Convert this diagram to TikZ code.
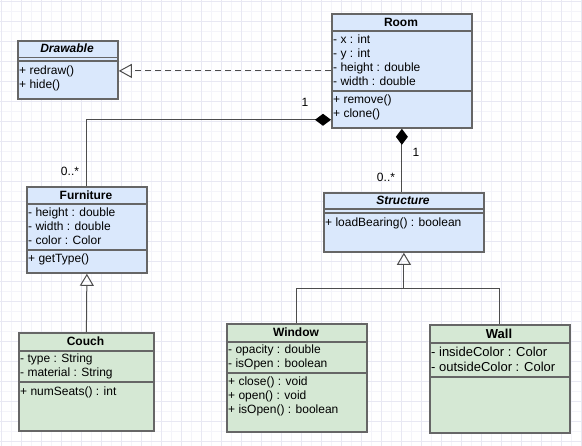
\documentclass[tikz,border=0pt]{standalone}
\usepackage{fontspec}
\setmainfont{Liberation Sans}
\usetikzlibrary{arrows.meta}
\definecolor{classblue}{HTML}{DAE8FC}
\definecolor{classgreen}{HTML}{D5E8D4}
\definecolor{classline}{HTML}{666666}
\definecolor{gridmajor}{HTML}{E8E8F3}
\definecolor{gridminor}{HTML}{F4F4FA}
\tikzset{
  classbox/.style={draw=classline, line width=1.8pt, anchor=north west, inner sep=0pt},
  bluebox/.style={classbox, fill=classblue},
  greenbox/.style={classbox, fill=classgreen},
  compart/.style={draw=classline, line width=1.8pt},
  classname/.style={font=\fontsize{12}{14}\selectfont\bfseries},
  abstractname/.style={font=\fontsize{12}{14}\selectfont\bfseries\itshape},
  member/.style={anchor=base west, inner sep=0pt, font=\fontsize{12}{14}\selectfont},
  mult/.style={font=\fontsize{12}{14}\selectfont, inner sep=0pt},
  assoc/.style={draw=black!70, line width=1pt},
  realizes/.style={assoc, dash pattern=on 6pt off 4pt, -{Triangle[open, length=13pt, width=14pt]}},
  inherits/.style={assoc, -{Triangle[open, length=12pt, width=14pt]}},
  composed/.style={assoc, -{Diamond[length=16pt, width=12pt, color=black]}},
}
\begin{document}
\begin{tikzpicture}[x=1pt, y=-1pt]
\useasboundingbox (0,0) rectangle (582,446);
% background grid
\begin{scope}[shift={(1,1)}]
\draw[gridminor, step=10pt] (-1,-1) grid (581,445);
\draw[gridmajor, step=20pt] (-1,-1) grid (581,445);
\end{scope}

% Drawable
\node[bluebox, minimum width=100pt, minimum height=58pt] (drawable) at (17,40) {};
\node[abstractname] (drawable-name) at (67,48.5) {Drawable};
\draw[compart] (drawable.west |- 0,57.5) -- (drawable.east |- 0,57.5);
\draw[compart] (drawable.west |- 0,61) -- (drawable.east |- 0,61);
\foreach \t [count=\i] in {+ redraw(), + hide()}
  \node[member] (drawable-o\i) at (19, 61+14*\i) {\t};

% Room
\node[bluebox, minimum width=140pt, minimum height=114pt] (room) at (331,13) {};
\node[classname] (room-name) at (401,22) {Room};
\draw[compart] (room.west |- 0,31) -- (room.east |- 0,31);
\draw[compart] (room.west |- 0,91) -- (room.east |- 0,91);
\foreach \t [count=\i] in {- x : int, - y : int, - height : double, - width : double}
  \node[member] (room-a\i) at (333, 30+14*\i) {\t};
\foreach \t [count=\i] in {+ remove(), + clone()}
  \node[member] (room-o\i) at (333, 90+14*\i) {\t};

% Furniture
\node[bluebox, minimum width=120pt, minimum height=86pt] (furniture) at (26,186) {};
\node[classname] (furniture-name) at (86,195) {Furniture};
\draw[compart] (furniture.west |- 0,204) -- (furniture.east |- 0,204);
\draw[compart] (furniture.west |- 0,250) -- (furniture.east |- 0,250);
\foreach \t [count=\i] in {- height : double, - width : double, - color : Color}
  \node[member] (furniture-a\i) at (28, 203+14*\i) {\t};
\node[member] (furniture-o1) at (28,263) {+ getType()};

% Couch
\node[greenbox, minimum width=135pt, minimum height=98pt] (couch) at (18,332) {};
\node[classname] (couch-name) at (85.5,341) {Couch};
\draw[compart] (couch.west |- 0,351) -- (couch.east |- 0,351);
\draw[compart] (couch.west |- 0,382) -- (couch.east |- 0,382);
\foreach \t [count=\i] in {- type : String, - material : String}
  \node[member] (couch-a\i) at (20, 349+14*\i) {\t};
\node[member] (couch-o1) at (20,396) {+ numSeats() : int};

% Structure
\node[bluebox, minimum width=160pt, minimum height=59pt] (structure) at (323,192) {};
\node[abstractname] (structure-name) at (403,200.5) {Structure};
\draw[compart] (structure.west |- 0,209) -- (structure.east |- 0,209);
\draw[compart] (structure.west |- 0,213) -- (structure.east |- 0,213);
\node[member] (structure-o1) at (325,227) {+ loadBearing() : boolean};

% Window
\node[greenbox, minimum width=140pt, minimum height=108pt] (window) at (226,323) {};
\node[classname] (window-name) at (296,332) {Window};
\draw[compart] (window.west |- 0,342) -- (window.east |- 0,342);
\draw[compart] (window.west |- 0,373) -- (window.east |- 0,373);
\foreach \t [count=\i] in {- opacity : double, - isOpen : boolean}
  \node[member] (window-a\i) at (228, 340+14*\i) {\t};
\foreach \t [count=\i] in {+ close() : void, + open() : void, + isOpen() : boolean}
  \node[member] (window-o\i) at (228, 372+14*\i) {\t};

% Wall
\node[greenbox, minimum width=140pt, minimum height=108pt] (wall) at (429,324) {};
\node[classname, font=\fontsize{13}{15}\selectfont\bfseries] (wall-name) at (499,333.5) {Wall};
\draw[compart] (wall.west |- 0,343) -- (wall.east |- 0,343);
\draw[compart] (wall.west |- 0,377) -- (wall.east |- 0,377);
\foreach \t [count=\i] in {- insideColor : Color, - outsideColor : Color}
  \node[member, font=\fontsize{13}{15}\selectfont] (wall-a\i) at (431, 342+15*\i) {\t};

% relations
\draw[realizes] (room.west) -- (room.west -| drawable.east);
\draw[composed] (furniture.north) |- ([yshift=9pt]room.south west);
\draw[composed] (room.south |- structure.north) -- (room.south);
\draw[inherits] (couch.north) -- (furniture.south);
\draw[inherits] (window.north) |- ([yshift=-36pt]structure.south) -- (structure.south);
\draw[assoc] (wall.north) |- ([yshift=-36pt]structure.south);

% multiplicities
\node[mult] (furniture-one) at (305,102) {1};
\node[mult] (furniture-many) at (70,171) {0..*};
\node[mult] (structure-one) at (416,152) {1};
\node[mult] (structure-many) at (386,177) {0..*};
\end{tikzpicture}
\end{document}
